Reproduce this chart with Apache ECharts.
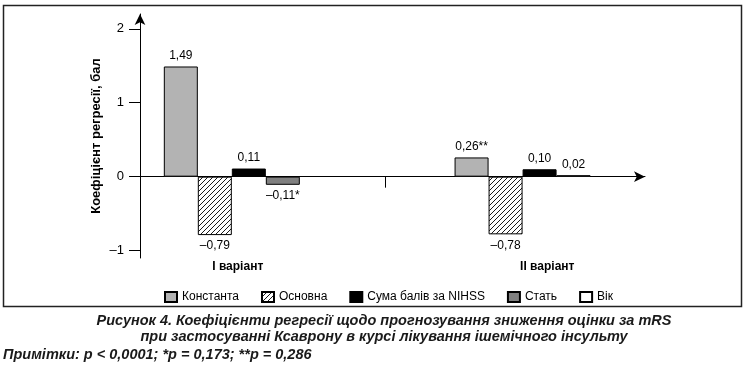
<!DOCTYPE html>
<html><head><meta charset="utf-8">
<script src="https://cdn.jsdelivr.net/npm/echarts@6/dist/echarts.min.js"></script>
<style>html,body{margin:0;padding:0;background:#fff}#c{width:746px;height:366px}</style>
</head><body><div id="c"></div>
<script>
// ---- data ----
const groups = ['I варіант', 'II варіант'];
const seriesNames = ['Константа', 'Основна', 'Сума балів за NIHSS', 'Стать', 'Вік'];
const konstanta = [1.49, 0.26];
const osnovna = [-0.79, -0.78];
const suma = [0.11, 0.10];
const stat = [-0.11, null];
const vik = [null, 0.02];
const konstantaMarks = ['', '**'];
const statMarks = ['*', ''];
const yTicks = [-1, 0, 1, 2];
const captionLines = ['Рисунок 4. Коефіцієнти регресії щодо прогнозування зниження оцінки за mRS',
                      'при застосуванні Ксаврону в курсі лікування ішемічного інсульту'];
const noteText = 'Примітки: p < 0,0001; *p = 0,173; **p = 0,286';

// ---- layout slots on category axis ----
const SLOTS = 34, groupSlot = [6, 25], midSlot = 16;
const LABEL_SLOTS = 32, labelSlot = [6, 25];
const SANS = "'Liberation Sans',Arial,sans-serif";

function fmt(v, mark) {
  return (v < 0 ? '–' : '') + Math.abs(v).toFixed(2).replace('.', ',') + (mark || '');
}
function toSlots(arr, marks) {
  const out = new Array(SLOTS).fill('-');
  arr.forEach((v, i) => {
    if (v === null || v === undefined) return;
    out[groupSlot[i]] = { value: v, mark: marks ? marks[i] : '',
      label: { position: v < 0 ? 'bottom' : 'top' } };
  });
  return out;
}
const cats = new Array(SLOTS).fill('').map((_, i) => 's' + i);
const labelCats = new Array(LABEL_SLOTS).fill('').map((_, i) => {
  const k = labelSlot.indexOf(i); return k >= 0 ? groups[k] : ' '.repeat(i + 1);
});

function hatch() {
  const c = document.createElement('canvas'); c.width = 5; c.height = 5;
  const g = c.getContext('2d'); g.fillStyle = '#fff'; g.fillRect(0, 0, 5, 5);
  g.strokeStyle = '#000'; g.lineWidth = 0.9; g.beginPath();
  g.moveTo(0, 5); g.lineTo(5, 0); g.moveTo(-1, 1); g.lineTo(1, -1); g.moveTo(4, 6); g.lineTo(6, 4);
  g.stroke(); return c;
}

const labelCfg = {
  show: true, distance: 5, color: '#000', fontSize: 12, fontFamily: SANS,
  formatter: p => fmt(p.value, p.data.mark)
};
function bar(name, arr, color, marks, stack) {
  return {
    type: 'bar', name, data: toSlots(arr, marks), stack, barWidth: 34, barGap: '0%',
    itemStyle: { color, borderColor: '#000', borderWidth: 1 },
    label: labelCfg, emphasis: { disabled: true }, animation: false
  };
}

const chart = echarts.init(document.getElementById('c'), null, { renderer: 'canvas' });
chart.setOption({
  animation: false,
  grid: { left: 140, right: 101, top: 14, bottom: 108, containLabel: false },
  legend: {
    left: 159, top: 286, itemWidth: 12, itemHeight: 10, itemGap: 22, icon: 'rect',
    selectedMode: false, textStyle: { fontFamily: SANS, fontSize: 12, color: '#000' },
    data: seriesNames
  },
  xAxis: [{
    type: 'category', data: cats, boundaryGap: false,
    axisLine: { onZero: true, lineStyle: { color: '#000', width: 1 }, symbol: ['none', 'arrow'], symbolSize: [8, 11] },
    axisTick: { show: true, interval: (i) => i === midSlot, length: 11, lineStyle: { color: '#000' } },
    axisLabel: { show: false }, splitLine: { show: false }
  }, {
    type: 'category', data: labelCats, boundaryGap: false, position: 'bottom',
    axisLine: { show: false, onZero: false }, axisTick: { show: false },
    axisLabel: { interval: 0, margin: 3, color: '#000', fontWeight: 'bold', fontSize: 12, fontFamily: SANS }
  }],
  yAxis: {
    type: 'value', min: -1.1, max: 2.2, splitLine: { show: false },
    axisLine: { show: true, lineStyle: { color: '#000' }, symbol: ['none', 'arrow'], symbolSize: [8, 11] },
    axisTick: { show: true, length: 11, customValues: yTicks, lineStyle: { color: '#000' } },
    axisLabel: { customValues: yTicks, color: '#000', fontSize: 13, margin: 16, fontFamily: SANS,
      formatter: v => (v < 0 ? '–' + Math.abs(v) : String(v)) },
    name: 'Коефіцієнт регресії, бал', nameLocation: 'middle', nameGap: 37, nameMoveOverlap: false,
    nameTextStyle: { fontWeight: 'bold', fontSize: 13, color: '#000', fontFamily: SANS }
  },
  series: [
    bar(seriesNames[0], konstanta, '#b3b3b3', konstantaMarks),
    bar(seriesNames[1], osnovna, { image: hatch(), repeat: 'repeat' }),
    bar(seriesNames[2], suma, '#000'),
    bar(seriesNames[3], stat, '#808080', statMarks, 'last'),
    bar(seriesNames[4], vik, '#fff', null, 'last')
  ],
  graphic: [
    { type: 'rect', silent: true, shape: { x: 3.5, y: 5.5, width: 738, height: 301 },
      style: { fill: 'none', stroke: '#222', lineWidth: 1.5 } },
    { type: 'text', x: 384, y: 313, style: { text: captionLines[0], textAlign: 'center',
      font: "italic bold 14.5px " + SANS, fill: '#1a1a1a' } },
    { type: 'text', x: 384, y: 329, style: { text: captionLines[1], textAlign: 'center',
      font: "italic bold 14.5px " + SANS, fill: '#1a1a1a' } },
    { type: 'text', x: 3, y: 347, style: { text: noteText, textAlign: 'left',
      font: "italic bold 14.5px " + SANS, fill: '#1a1a1a' } }
  ]
});
</script></body></html>
